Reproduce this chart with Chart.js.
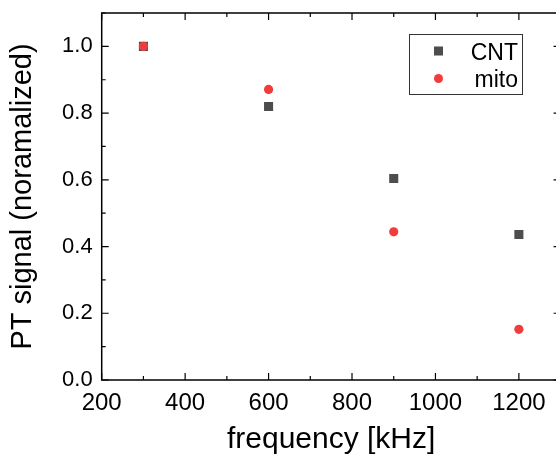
<!DOCTYPE html>
<html>
<head>
<meta charset="utf-8">
<script src="https://cdn.jsdelivr.net/npm/chart.js@4"></script>
<style>
  html, body { margin: 0; padding: 0; background: #fff; overflow: hidden; }
  #chart { position: relative; width: 567px; height: 455px; }
</style>
</head>
<body>
<div id="chart"><canvas id="plot"></canvas></div>
<script>
// frequency in kHz
const frequency = [300, 600, 900, 1200];
const cntSignal = [1.0, 0.82, 0.604, 0.436];
const mitoSignal = [1.0, 0.871, 0.444, 0.152];

const xTicks = [200, 400, 600, 800, 1000, 1200];
const yTicks = [0.0, 0.2, 0.4, 0.6, 0.8, 1.0];

const FONT = 'Liberation Sans, Arial, sans-serif';

function toPoints(xs, ys) {
  return xs.map((x, i) => ({ x, y: ys[i] }));
}

function noPad(s) {
  s.paddingTop = 0;
  s.paddingBottom = 0;
  s.paddingLeft = 0;
  s.paddingRight = 0;
}

// frame with inward ticks on all four sides, plus the boxed legend
const framePlugin = {
  id: 'frame',
  afterDraw(chart) {
    const { ctx, chartArea: a, scales } = chart;
    const xs = scales.x, ys = scales.y;
    ctx.save();
    ctx.strokeStyle = '#000';
    ctx.lineWidth = 1.5;
    ctx.strokeRect(a.left, a.top, a.right - a.left, a.bottom - a.top);

    ctx.lineWidth = 1.2;
    ctx.beginPath();
    for (let v = 200; v <= 1300; v += 100) {
      const px = xs.getPixelForValue(v);
      const len = v % 200 === 0 ? 7 : 4;
      ctx.moveTo(px, a.bottom); ctx.lineTo(px, a.bottom - len);
      ctx.moveTo(px, a.top); ctx.lineTo(px, a.top + len);
    }
    for (let i = 0; i <= 11; i++) {
      const py = ys.getPixelForValue(i / 10);
      const len = i % 2 === 0 ? 7 : 4;
      ctx.moveTo(a.left, py); ctx.lineTo(a.left + len, py);
      ctx.moveTo(a.right, py); ctx.lineTo(a.right - len, py);
    }
    ctx.stroke();

    // legend
    const lx = 409.5, ly = 34.5, lw = 113, lh = 60;
    ctx.fillStyle = '#fff';
    ctx.fillRect(lx, ly, lw, lh);
    ctx.strokeStyle = '#333';
    ctx.lineWidth = 1;
    ctx.strokeRect(lx, ly, lw, lh);

    ctx.fillStyle = '#000';
    ctx.font = '23px ' + FONT;
    ctx.textAlign = 'right';
    ctx.textBaseline = 'alphabetic';
    const ds = chart.data.datasets;
    ctx.fillText(ds[0].label, 518, 60);
    ctx.fillText(ds[1].label, 518, 87);

    ctx.fillStyle = ds[0].backgroundColor;
    ctx.fillRect(434, 46.5, 9, 9);
    ctx.fillStyle = ds[1].backgroundColor;
    ctx.beginPath();
    ctx.arc(438.5, 78.5, 4.5, 0, Math.PI * 2);
    ctx.fill();
    ctx.restore();
  }
};

const chart = new Chart(document.getElementById('plot'), {
  type: 'scatter',
  data: {
    datasets: [
      {
        label: 'CNT',
        data: toPoints(frequency, cntSignal),
        pointStyle: 'rect',
        pointRadius: 6.4,
        pointHoverRadius: 6.4,
        backgroundColor: 'rgb(77, 77, 77)',
        borderColor: 'rgb(77, 77, 77)',
        borderWidth: 0,
        order: 2
      },
      {
        label: 'mito',
        data: toPoints(frequency, mitoSignal),
        pointStyle: 'circle',
        pointRadius: 4.6,
        pointHoverRadius: 4.6,
        backgroundColor: 'rgb(240, 60, 60)',
        borderColor: 'rgb(240, 60, 60)',
        borderWidth: 0,
        order: 1
      }
    ]
  },
  options: {
    responsive: true,
    maintainAspectRatio: false,
    animation: false,
    events: [],
    layout: { padding: { top: 13, left: 0, right: 0, bottom: 0 } },
    plugins: {
      legend: { display: false },
      tooltip: { enabled: false }
    },
    scales: {
      x: {
        type: 'linear',
        min: 200,
        max: 1300,
        grid: { display: false, drawTicks: false },
        border: { display: false },
        afterBuildTicks: s => { s.ticks = xTicks.map(v => ({ value: v })); },
        afterFit: s => { s.height = 75; noPad(s); },
        ticks: {
          includeBounds: false,
          padding: 9,
          color: '#000',
          font: { family: FONT, size: 24 },
          maxRotation: 0,
          callback: v => String(v)
        },
        title: {
          display: true,
          text: 'frequency [kHz]',
          color: '#000',
          font: { family: FONT, size: 30, lineHeight: 1 },
          padding: 0
        }
      },
      y: {
        type: 'linear',
        min: 0,
        max: 1.1,
        grid: { display: false, drawTicks: false },
        border: { display: false },
        afterBuildTicks: s => { s.ticks = yTicks.map(v => ({ value: v })); },
        afterFit: s => { s.width = 101.7; noPad(s); },
        ticks: {
          includeBounds: false,
          padding: 9,
          color: '#000',
          font: { family: FONT, size: 22 },
          callback: v => Number(v).toFixed(1)
        },
        title: {
          display: true,
          text: 'PT signal (noramalized)',
          color: '#000',
          font: { family: FONT, size: 29, lineHeight: 1 },
          padding: 8
        }
      }
    }
  },
  plugins: [framePlugin]
});
</script>
</body>
</html>
